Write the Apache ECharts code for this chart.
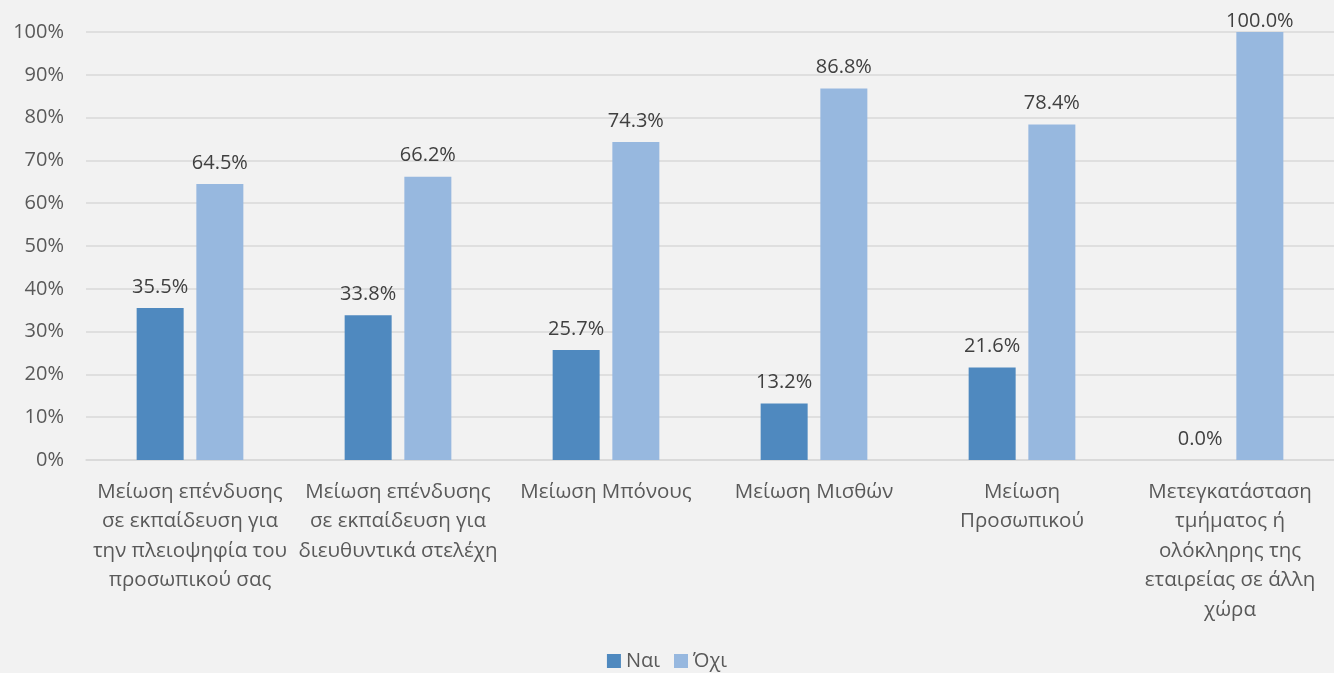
<!DOCTYPE html>
<html>
<head>
<meta charset="utf-8">
<script src="https://cdn.jsdelivr.net/npm/echarts@6/dist/echarts.min.js"></script>
<style>
  html, body { margin: 0; padding: 0; background: #f2f2f2; }
  #chart { width: 1334px; height: 673px; }
</style>
</head>
<body>
<div id="chart"></div>
<script>
const categories = [
  'Μείωση επένδυσης\nσε εκπαίδευση για\nτην πλειοψηφία του\nπροσωπικού σας',
  'Μείωση επένδυσης\nσε εκπαίδευση για\nδιευθυντικά στελέχη',
  'Μείωση Μπόνους',
  'Μείωση Μισθών',
  'Μείωση\nΠροσωπικού',
  'Μετεγκατάσταση\nτμήματος ή\nολόκληρης της\nεταιρείας σε άλλη\nχώρα'
];
const yesValues = [35.5, 33.8, 25.7, 13.2, 21.6, 0.0];
const noValues = [64.5, 66.2, 74.3, 86.8, 78.4, 100.0];
const seriesNames = ['Ναι', 'Όχι'];

const FONT = 'Open Sans';
const chart = echarts.init(document.getElementById('chart'));

const labelStyle = {
  show: true,
  position: 'top',
  distance: 11,
  color: '#404040',
  fontFamily: FONT,
  fontSize: 20,
  formatter: p => p.value.toFixed(1) + '%'
};

// A label over a full-height bar sits tight against the bar so it stays on the canvas
const withLabelFit = values => values.map(v =>
  v >= 100 ? { value: v, label: { distance: 1 } } : v
);

chart.setOption({
  backgroundColor: '#f2f2f2',
  animation: false,
  grid: { left: 86, right: 0, top: 32, bottom: 213, containLabel: false },
  legend: {
    bottom: -3,
    left: 'center',
    itemWidth: 14,
    itemHeight: 14,
    itemGap: 14,
    icon: 'rect',
    textStyle: { color: '#595959', fontFamily: FONT, fontSize: 20 },
    data: seriesNames
  },
  xAxis: {
    type: 'category',
    data: categories,
    axisLine: { lineStyle: { color: '#d9d9d9', width: 1.5 } },
    axisTick: { show: false },
    axisLabel: {
      interval: 0,
      color: '#595959',
      fontFamily: FONT,
      fontSize: 20.5,
      lineHeight: 29.5,
      margin: 17
    }
  },
  yAxis: {
    type: 'value',
    min: 0,
    max: 100,
    interval: 10,
    axisLine: { show: false },
    axisTick: { show: false },
    splitLine: { lineStyle: { color: '#d9d9d9', width: 1.5 } },
    axisLabel: {
      color: '#595959',
      fontFamily: FONT,
      fontSize: 20,
      margin: 22,
      formatter: v => v + '%'
    }
  },
  series: [
    {
      name: seriesNames[0],
      type: 'bar',
      data: withLabelFit(yesValues),
      barWidth: 47,
      barGap: '27%',
      itemStyle: { color: '#4f89bf' },
      label: labelStyle
    },
    {
      name: seriesNames[1],
      type: 'bar',
      data: withLabelFit(noValues),
      barWidth: 47,
      itemStyle: { color: '#97b8df' },
      label: labelStyle
    }
  ]
});
</script>
</body>
</html>
